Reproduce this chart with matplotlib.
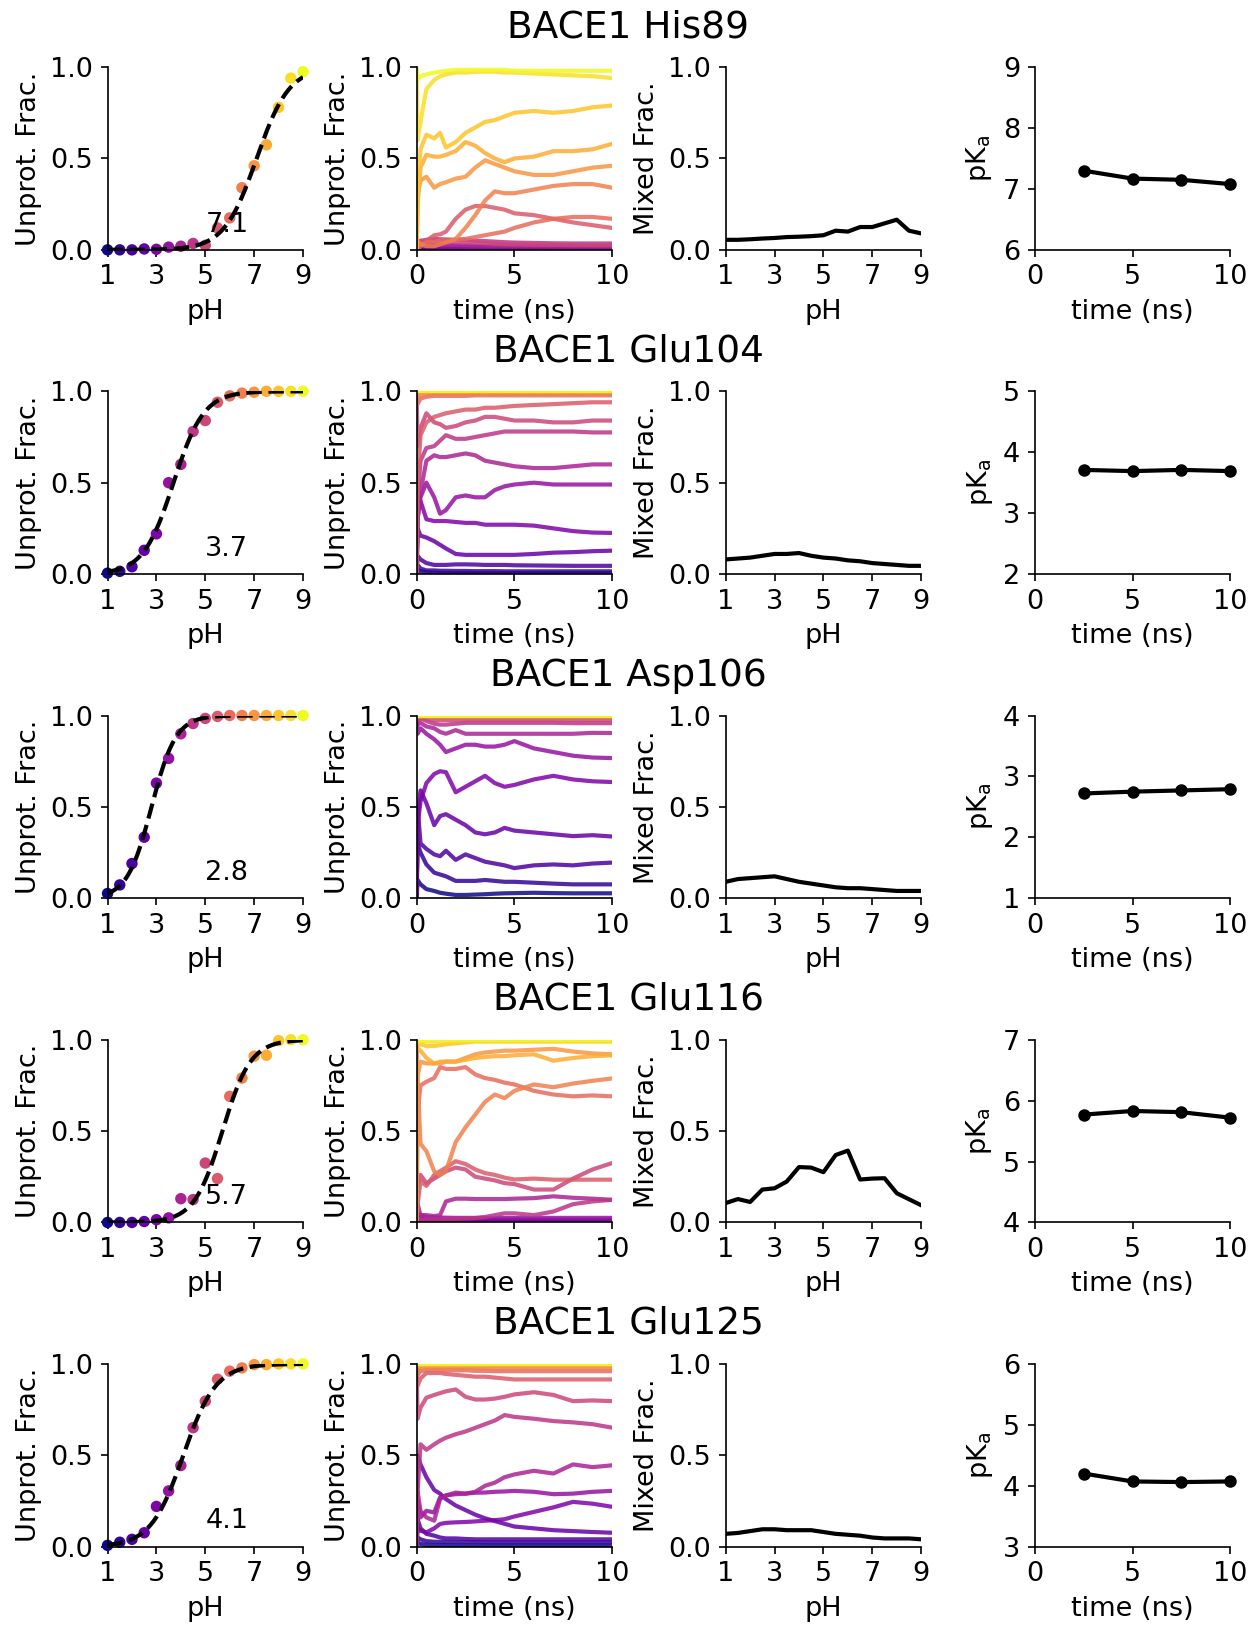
import numpy as np
import matplotlib.pyplot as plt

plt.rcParams['font.family'] = ['DejaVu Sans']
plt.rcParams['font.size'] = 13

# pH windows and time grid of the running-average traces
ph = [1, 1.5, 2, 2.5, 3, 3.5, 4, 4.5, 5, 5.5, 6, 6.5, 7, 7.5, 8, 8.5, 9]
t_ns = [0, 0.05, 0.2, 0.5, 0.9, 1.2, 1.5, 2, 2.5, 3, 3.5, 4, 4.5, 5, 6, 7, 8, 9, 10]
pka_times = [2.5, 5, 7.5, 10]

residues = ['His89', 'Glu104', 'Asp106', 'Glu116', 'Glu125']
pka_fit = [7.1, 3.7, 2.8, 5.7, 4.1]
hill_n = [0.65, 0.7, 0.87, 0.75, 0.65]
pka_ylims = [(6, 9), (2, 5), (1, 4), (4, 7), (3, 6)]

# unprotonated fraction per pH
his89_frac = [0, 0, 0, 0.005, 0.003, 0.015, 0.02, 0.035, 0.025, 0.12, 0.175, 0.34, 0.46, 0.575, 0.78, 0.94, 0.975]
glu104_frac = [0.005, 0.015, 0.04, 0.13, 0.22, 0.50, 0.60, 0.78, 0.84, 0.94, 0.975, 0.99, 0.995, 1.0, 1.0, 1.0, 1.0]
asp106_frac = [0.026, 0.073, 0.19, 0.334, 0.63, 0.765, 0.90, 0.956, 0.984, 0.995, 1.0, 1.0, 1.0, 1.0, 1.0, 1.0, 1.0]
glu116_frac = [0, 0, 0, 0.005, 0.015, 0.025, 0.13, 0.125, 0.325, 0.24, 0.69, 0.79, 0.91, 0.915, 0.995, 1.0, 1.0]
glu125_frac = [0.007, 0.024, 0.04, 0.076, 0.22, 0.305, 0.444, 0.651, 0.796, 0.916, 0.96, 0.978, 0.996, 0.996, 1.0, 1.0, 1.0]

# mixed fraction per pH
his89_mixed = [0.055, 0.055, 0.058, 0.062, 0.065, 0.07, 0.072, 0.075, 0.08, 0.105, 0.1, 0.125, 0.125, 0.145, 0.165, 0.105, 0.09]
glu104_mixed = [0.08, 0.085, 0.09, 0.1, 0.11, 0.11, 0.115, 0.1, 0.09, 0.085, 0.075, 0.07, 0.06, 0.055, 0.05, 0.045, 0.045]
asp106_mixed = [0.09, 0.105, 0.11, 0.115, 0.12, 0.105, 0.09, 0.08, 0.07, 0.06, 0.055, 0.055, 0.05, 0.045, 0.04, 0.04, 0.04]
glu116_mixed = [0.106, 0.128, 0.112, 0.18, 0.187, 0.224, 0.303, 0.3, 0.275, 0.369, 0.393, 0.235, 0.24, 0.242, 0.16, 0.127, 0.094]
glu125_mixed = [0.07, 0.075, 0.085, 0.095, 0.095, 0.09, 0.09, 0.09, 0.08, 0.07, 0.065, 0.06, 0.05, 0.045, 0.045, 0.045, 0.04]

# pKa from growing windows of the trajectory
his89_pka_t = [7.30, 7.17, 7.15, 7.08]
glu104_pka_t = [3.71, 3.69, 3.71, 3.69]
asp106_pka_t = [2.72, 2.75, 2.77, 2.79]
glu116_pka_t = [5.77, 5.83, 5.81, 5.72]
glu125_pka_t = [4.20, 4.07, 4.06, 4.07]

# running unprotonated fraction vs time, one row per pH
his89_traces = [
    [0, 0, 0, 0, 0, 0, 0, 0, 0, 0, 0, 0, 0, 0, 0, 0, 0, 0, 0],
    [0, 0, 0.01, 0.005, 0, 0, 0, 0, 0, 0, 0, 0, 0, 0, 0, 0, 0, 0, 0],
    [0, 0.02, 0.01, 0.005, 0.003, 0.002, 0.002, 0.002, 0.002, 0.002, 0.002, 0.002, 0.002, 0.002, 0.002, 0.002, 0.002, 0.002, 0.002],
    [0, 0.03, 0.02, 0.012, 0.008, 0.006, 0.006, 0.005, 0.005, 0.005, 0.005, 0.005, 0.005, 0.005, 0.005, 0.005, 0.005, 0.005, 0.005],
    [0, 0, 0.01, 0.008, 0.006, 0.005, 0.005, 0.004, 0.004, 0.004, 0.003, 0.003, 0.003, 0.003, 0.003, 0.003, 0.003, 0.003, 0.003],
    [0, 0.05, 0.03, 0.025, 0.02, 0.02, 0.018, 0.018, 0.017, 0.016, 0.016, 0.016, 0.015, 0.015, 0.015, 0.015, 0.015, 0.015, 0.015],
    [0, 0.02, 0.02, 0.03, 0.03, 0.028, 0.027, 0.026, 0.025, 0.024, 0.023, 0.022, 0.022, 0.021, 0.021, 0.02, 0.02, 0.02, 0.02],
    [0, 0.04, 0.05, 0.055, 0.06, 0.058, 0.057, 0.055, 0.055, 0.05, 0.048, 0.045, 0.042, 0.04, 0.038, 0.036, 0.035, 0.035, 0.035],
    [0, 0.03, 0.04, 0.045, 0.05, 0.05, 0.048, 0.046, 0.044, 0.04, 0.036, 0.033, 0.03, 0.03, 0.028, 0.027, 0.026, 0.025, 0.025],
    [0, 0, 0.02, 0.05, 0.08, 0.085, 0.1, 0.17, 0.22, 0.24, 0.24, 0.23, 0.22, 0.2, 0.19, 0.17, 0.15, 0.135, 0.12],
    [0, 0.02, 0.03, 0.04, 0.045, 0.05, 0.05, 0.055, 0.06, 0.07, 0.08, 0.09, 0.1, 0.12, 0.15, 0.17, 0.18, 0.18, 0.17],
    [0, 0.05, 0.03, 0.02, 0.02, 0.03, 0.04, 0.06, 0.12, 0.19, 0.27, 0.32, 0.31, 0.31, 0.33, 0.35, 0.36, 0.36, 0.34],
    [0, 0.3, 0.38, 0.4, 0.34, 0.36, 0.37, 0.39, 0.4, 0.45, 0.49, 0.47, 0.45, 0.43, 0.41, 0.41, 0.43, 0.45, 0.46],
    [0, 0.25, 0.45, 0.52, 0.51, 0.51, 0.52, 0.54, 0.59, 0.57, 0.53, 0.5, 0.48, 0.5, 0.51, 0.54, 0.54, 0.55, 0.58],
    [0, 0.3, 0.55, 0.63, 0.61, 0.64, 0.56, 0.59, 0.64, 0.67, 0.7, 0.71, 0.73, 0.75, 0.76, 0.75, 0.76, 0.78, 0.79],
    [1, 0.6, 0.7, 0.88, 0.93, 0.95, 0.96, 0.97, 0.97, 0.975, 0.975, 0.975, 0.97, 0.97, 0.965, 0.96, 0.955, 0.95, 0.94],
    [1, 0.93, 0.95, 0.96, 0.97, 0.975, 0.98, 0.985, 0.985, 0.985, 0.985, 0.985, 0.985, 0.98, 0.98, 0.98, 0.98, 0.98, 0.98],
]

glu104_traces = [
    [0, 0.02, 0.015, 0.01, 0.008, 0.007, 0.006, 0.006, 0.006, 0.005, 0.005, 0.005, 0.005, 0.005, 0.005, 0.005, 0.005, 0.005, 0.005],
    [0, 0.05, 0.03, 0.02, 0.02, 0.018, 0.018, 0.017, 0.017, 0.016, 0.016, 0.016, 0.015, 0.015, 0.015, 0.015, 0.015, 0.015, 0.015],
    [0, 0.1, 0.08, 0.06, 0.05, 0.05, 0.05, 0.053, 0.053, 0.052, 0.05, 0.05, 0.05, 0.048, 0.047, 0.046, 0.045, 0.045, 0.045],
    [0, 0.25, 0.21, 0.2, 0.18, 0.16, 0.14, 0.11, 0.105, 0.105, 0.105, 0.105, 0.105, 0.105, 0.11, 0.117, 0.12, 0.125, 0.128],
    [0, 0.35, 0.4, 0.3, 0.29, 0.29, 0.29, 0.285, 0.28, 0.28, 0.27, 0.27, 0.27, 0.27, 0.265, 0.25, 0.235, 0.227, 0.225],
    [0, 0.3, 0.42, 0.5, 0.42, 0.33, 0.35, 0.42, 0.43, 0.42, 0.42, 0.46, 0.48, 0.49, 0.5, 0.49, 0.49, 0.49, 0.49],
    [0, 0.3, 0.45, 0.62, 0.65, 0.64, 0.64, 0.65, 0.66, 0.65, 0.62, 0.61, 0.6, 0.59, 0.58, 0.58, 0.59, 0.6, 0.6],
    [0, 0.4, 0.62, 0.69, 0.7, 0.73, 0.76, 0.74, 0.74, 0.75, 0.76, 0.77, 0.78, 0.78, 0.78, 0.78, 0.78, 0.775, 0.775],
    [1, 0.7, 0.8, 0.88, 0.83, 0.82, 0.8, 0.81, 0.83, 0.84, 0.86, 0.86, 0.85, 0.84, 0.84, 0.83, 0.83, 0.84, 0.84],
    [0, 0.5, 0.76, 0.83, 0.86, 0.87, 0.88, 0.89, 0.9, 0.9, 0.91, 0.91, 0.915, 0.92, 0.925, 0.93, 0.935, 0.94, 0.94],
    [1, 0.93, 0.96, 0.97, 0.975, 0.975, 0.975, 0.975, 0.975, 0.978, 0.978, 0.978, 0.978, 0.978, 0.978, 0.978, 0.978, 0.978, 0.978],
    [1, 0.97, 0.98, 0.985, 0.99, 0.99, 0.99, 0.99, 0.99, 0.99, 0.99, 0.99, 0.99, 0.99, 0.99, 0.99, 0.99, 0.99, 0.99],
    [1, 0.99, 0.995, 0.996, 0.997, 0.997, 0.997, 0.997, 0.997, 0.997, 0.997, 0.997, 0.997, 0.997, 0.997, 0.997, 0.997, 0.997, 0.997],
    [1, 1, 1, 1, 1, 1, 1, 1, 1, 1, 1, 1, 1, 1, 1, 1, 1, 1, 1],
    [1, 1, 1, 1, 1, 1, 1, 1, 1, 1, 1, 1, 1, 1, 1, 1, 1, 1, 1],
    [1, 1, 1, 1, 1, 1, 1, 1, 1, 1, 1, 1, 1, 1, 1, 1, 1, 1, 1],
    [1, 1, 1, 1, 1, 1, 1, 1, 1, 1, 1, 1, 1, 1, 1, 1, 1, 1, 1],
]

asp106_traces = [
    [0, 0.1, 0.076, 0.05, 0.04, 0.03, 0.025, 0.018, 0.018, 0.02, 0.022, 0.025, 0.027, 0.028, 0.03, 0.028, 0.027, 0.027, 0.027],
    [0, 0.3, 0.25, 0.185, 0.14, 0.13, 0.12, 0.095, 0.095, 0.095, 0.1, 0.095, 0.09, 0.09, 0.085, 0.08, 0.076, 0.076, 0.076],
    [0, 0.5, 0.3, 0.27, 0.24, 0.23, 0.26, 0.21, 0.24, 0.22, 0.2, 0.19, 0.18, 0.165, 0.18, 0.185, 0.18, 0.19, 0.195],
    [0, 0.45, 0.59, 0.52, 0.4, 0.45, 0.46, 0.43, 0.4, 0.36, 0.35, 0.36, 0.385, 0.37, 0.36, 0.35, 0.34, 0.345, 0.338],
    [0, 0.4, 0.53, 0.63, 0.68, 0.695, 0.69, 0.58, 0.61, 0.64, 0.67, 0.63, 0.61, 0.62, 0.65, 0.67, 0.65, 0.64, 0.636],
    [1, 0.9, 0.93, 0.9, 0.87, 0.84, 0.8, 0.82, 0.84, 0.84, 0.83, 0.83, 0.84, 0.86, 0.82, 0.8, 0.78, 0.77, 0.767],
    [1, 0.95, 0.96, 0.94, 0.93, 0.91, 0.9, 0.92, 0.9, 0.9, 0.9, 0.9, 0.9, 0.9, 0.9, 0.9, 0.9, 0.905, 0.904],
    [1, 0.97, 0.985, 0.97, 0.955, 0.95, 0.95, 0.955, 0.96, 0.96, 0.96, 0.96, 0.96, 0.96, 0.96, 0.96, 0.958, 0.958, 0.958],
    [1, 0.98, 0.985, 0.98, 0.975, 0.975, 0.975, 0.975, 0.975, 0.975, 0.975, 0.975, 0.975, 0.975, 0.975, 0.975, 0.975, 0.975, 0.975],
    [1, 0.99, 0.995, 0.995, 0.995, 0.995, 0.995, 0.995, 0.995, 0.995, 0.995, 0.995, 0.995, 0.995, 0.995, 0.995, 0.995, 0.995, 0.995],
    [1, 1, 1, 1, 1, 1, 1, 1, 1, 1, 1, 1, 1, 1, 1, 1, 1, 1, 1],
    [1, 1, 1, 1, 1, 1, 1, 1, 1, 1, 1, 1, 1, 1, 1, 1, 1, 1, 1],
    [1, 1, 1, 1, 1, 1, 1, 1, 1, 1, 1, 1, 1, 1, 1, 1, 1, 1, 1],
    [1, 1, 1, 1, 1, 1, 1, 1, 1, 1, 1, 1, 1, 1, 1, 1, 1, 1, 1],
    [1, 1, 1, 1, 1, 1, 1, 1, 1, 1, 1, 1, 1, 1, 1, 1, 1, 1, 1],
    [1, 1, 1, 1, 1, 1, 1, 1, 1, 1, 1, 1, 1, 1, 1, 1, 1, 1, 1],
    [1, 1, 1, 1, 1, 1, 1, 1, 1, 1, 1, 1, 1, 1, 1, 1, 1, 1, 1],
]

glu116_traces = [
    [0, 0, 0, 0, 0, 0, 0, 0, 0, 0, 0, 0, 0, 0, 0, 0, 0, 0, 0],
    [0, 0.01, 0.005, 0, 0, 0, 0, 0, 0, 0, 0, 0, 0, 0, 0, 0, 0, 0, 0],
    [0, 0.01, 0.005, 0.003, 0.002, 0.001, 0.001, 0.001, 0.001, 0.001, 0.001, 0.001, 0.001, 0.001, 0.001, 0.001, 0.001, 0.001, 0.001],
    [0, 0.02, 0.01, 0.008, 0.007, 0.006, 0.006, 0.005, 0.005, 0.005, 0.005, 0.005, 0.005, 0.005, 0.005, 0.005, 0.005, 0.005, 0.005],
    [0, 0.03, 0.02, 0.015, 0.015, 0.014, 0.014, 0.014, 0.014, 0.015, 0.015, 0.015, 0.015, 0.015, 0.015, 0.015, 0.015, 0.015, 0.015],
    [0, 0.05, 0.04, 0.03, 0.028, 0.027, 0.026, 0.025, 0.025, 0.025, 0.025, 0.025, 0.025, 0.025, 0.025, 0.025, 0.025, 0.025, 0.025],
    [0, 0.1, 0.04, 0.04, 0.035, 0.04, 0.115, 0.13, 0.13, 0.128, 0.128, 0.128, 0.128, 0.13, 0.133, 0.143, 0.135, 0.13, 0.124],
    [0, 0.02, 0.015, 0.015, 0.015, 0.015, 0.018, 0.02, 0.022, 0.024, 0.03, 0.04, 0.05, 0.05, 0.04, 0.06, 0.1, 0.115, 0.124],
    [0, 0.2, 0.26, 0.215, 0.24, 0.26, 0.28, 0.3, 0.29, 0.25, 0.24, 0.23, 0.215, 0.21, 0.18, 0.18, 0.24, 0.29, 0.325],
    [0, 0.1, 0.225, 0.2, 0.26, 0.28, 0.3, 0.335, 0.32, 0.29, 0.27, 0.26, 0.245, 0.235, 0.24, 0.234, 0.234, 0.234, 0.234],
    [0, 0.6, 0.75, 0.77, 0.79, 0.85, 0.84, 0.84, 0.85, 0.81, 0.79, 0.78, 0.765, 0.755, 0.72, 0.7, 0.69, 0.695, 0.69],
    [1, 0.79, 0.43, 0.39, 0.28, 0.26, 0.28, 0.44, 0.52, 0.59, 0.66, 0.7, 0.68, 0.72, 0.755, 0.74, 0.76, 0.775, 0.788],
    [0, 0.8, 0.88, 0.87, 0.87, 0.87, 0.88, 0.88, 0.9, 0.92, 0.93, 0.935, 0.94, 0.94, 0.945, 0.95, 0.935, 0.925, 0.92],
    [1, 0.95, 0.94, 0.9, 0.87, 0.88, 0.88, 0.88, 0.89, 0.9, 0.905, 0.91, 0.91, 0.915, 0.92, 0.885, 0.9, 0.91, 0.914],
    [1, 0.98, 0.975, 0.965, 0.965, 0.97, 0.975, 0.98, 0.985, 0.99, 0.99, 0.99, 0.99, 0.99, 0.99, 0.99, 0.99, 0.99, 0.99],
    [1, 0.99, 0.99, 0.99, 0.99, 0.992, 0.993, 0.994, 0.995, 0.995, 0.995, 0.995, 0.995, 0.995, 0.995, 0.995, 0.995, 0.995, 0.995],
    [1, 1, 1, 1, 1, 1, 1, 1, 1, 1, 1, 1, 1, 1, 1, 1, 1, 1, 1],
]

glu125_traces = [
    [0, 0.02, 0.015, 0.01, 0.008, 0.008, 0.008, 0.007, 0.007, 0.007, 0.007, 0.007, 0.007, 0.007, 0.007, 0.007, 0.007, 0.007, 0.007],
    [0, 0.05, 0.04, 0.03, 0.027, 0.026, 0.026, 0.025, 0.025, 0.025, 0.024, 0.024, 0.024, 0.024, 0.024, 0.024, 0.024, 0.024, 0.024],
    [0, 0.15, 0.1, 0.07, 0.06, 0.05, 0.045, 0.045, 0.042, 0.04, 0.04, 0.04, 0.04, 0.04, 0.04, 0.04, 0.04, 0.04, 0.04],
    [0, 0.5, 0.45, 0.38, 0.31, 0.29, 0.26, 0.225, 0.2, 0.175, 0.155, 0.14, 0.125, 0.11, 0.1, 0.09, 0.085, 0.08, 0.076],
    [0, 0.1, 0.087, 0.078, 0.1, 0.124, 0.13, 0.133, 0.135, 0.138, 0.142, 0.145, 0.15, 0.165, 0.19, 0.215, 0.245, 0.235, 0.218],
    [0, 0.25, 0.16, 0.196, 0.187, 0.27, 0.28, 0.287, 0.29, 0.295, 0.296, 0.3, 0.302, 0.305, 0.3, 0.287, 0.29, 0.3, 0.305],
    [0, 0.3, 0.196, 0.16, 0.142, 0.26, 0.28, 0.296, 0.29, 0.3, 0.333, 0.35, 0.38, 0.395, 0.415, 0.4, 0.45, 0.435, 0.445],
    [0, 0.3, 0.56, 0.53, 0.56, 0.58, 0.596, 0.615, 0.63, 0.65, 0.67, 0.69, 0.72, 0.71, 0.7, 0.687, 0.68, 0.67, 0.651],
    [1, 0.7, 0.76, 0.815, 0.83, 0.84, 0.85, 0.86, 0.82, 0.805, 0.805, 0.81, 0.82, 0.833, 0.845, 0.83, 0.796, 0.8, 0.796],
    [1, 0.88, 0.92, 0.95, 0.95, 0.95, 0.945, 0.94, 0.935, 0.93, 0.93, 0.925, 0.92, 0.915, 0.915, 0.915, 0.915, 0.915, 0.915],
    [1, 0.94, 0.96, 0.965, 0.965, 0.965, 0.965, 0.965, 0.965, 0.962, 0.962, 0.96, 0.96, 0.96, 0.96, 0.96, 0.96, 0.96, 0.96],
    [1, 0.97, 0.975, 0.978, 0.978, 0.978, 0.978, 0.978, 0.978, 0.978, 0.978, 0.978, 0.978, 0.978, 0.978, 0.978, 0.978, 0.978, 0.978],
    [1, 0.99, 0.995, 0.996, 0.996, 0.996, 0.996, 0.996, 0.996, 0.996, 0.996, 0.996, 0.996, 0.996, 0.996, 0.996, 0.996, 0.996, 0.996],
    [1, 0.99, 0.995, 0.996, 0.996, 0.996, 0.996, 0.996, 0.996, 0.996, 0.996, 0.996, 0.996, 0.996, 0.996, 0.996, 0.996, 0.996, 0.996],
    [1, 1, 1, 1, 1, 1, 1, 1, 1, 1, 1, 1, 1, 1, 1, 1, 1, 1, 1],
    [1, 1, 1, 1, 1, 1, 1, 1, 1, 1, 1, 1, 1, 1, 1, 1, 1, 1, 1],
    [1, 1, 1, 1, 1, 1, 1, 1, 1, 1, 1, 1, 1, 1, 1, 1, 1, 1, 1],
]

fracs = [his89_frac, glu104_frac, asp106_frac, glu116_frac, glu125_frac]
mixeds = [his89_mixed, glu104_mixed, asp106_mixed, glu116_mixed, glu125_mixed]
pka_ts = [his89_pka_t, glu104_pka_t, asp106_pka_t, glu116_pka_t, glu125_pka_t]
traces = [his89_traces, glu104_traces, asp106_traces, glu116_traces, glu125_traces]

cmap = plt.get_cmap('plasma')
colors = [cmap((p - 1) / 8) for p in ph]
ph_fine = np.linspace(1, 9, 200)

fig = plt.figure(figsize=(1249 / 150, 1637 / 150), dpi=150)
axes = fig.subplots(5, 4)
fig.subplots_adjust(left=0.0861, right=0.985, top=0.959, bottom=0.0552,
                    wspace=0.581, hspace=0.774)

for i in range(5):
    ax1, ax2, ax3, ax4 = axes[i]

    # titration curve
    ax1.scatter(ph, fracs[i], c=colors, s=20, zorder=2, clip_on=False)
    fit = 1 / (1 + 10 ** (hill_n[i] * (pka_fit[i] - ph_fine)))
    ax1.plot(ph_fine, fit, '--', color='k', lw=2, zorder=3)
    ax1.text(5, 0.1, f'{pka_fit[i]:.1f}')
    ax1.set_xlim(1, 9)
    ax1.set_ylim(0, 1)
    ax1.set_xticks([1, 3, 5, 7, 9])
    ax1.set_yticks([0, 0.5, 1.0])
    ax1.set_xlabel('pH')
    ax1.set_ylabel('Unprot. Frac.')

    # running fractions
    for j, tr in enumerate(traces[i]):
        ax2.plot(t_ns, tr, color=colors[j], lw=2, alpha=0.85)
    ax2.set_xlim(0, 10)
    ax2.set_ylim(0, 1)
    ax2.set_xticks([0, 5, 10])
    ax2.set_yticks([0, 0.5, 1.0])
    ax2.set_xlabel('time (ns)')
    ax2.set_ylabel('Unprot. Frac.')

    # mixed fraction
    ax3.plot(ph, mixeds[i], color='k', lw=2)
    ax3.set_xlim(1, 9)
    ax3.set_ylim(0, 1)
    ax3.set_xticks([1, 3, 5, 7, 9])
    ax3.set_yticks([0, 0.5, 1.0])
    ax3.set_xlabel('pH')
    ax3.set_ylabel('Mixed Frac.')

    # pKa convergence
    ax4.plot(pka_times, pka_ts[i], 'o-', color='k', lw=2, ms=5, clip_on=False)
    ax4.set_xlim(0, 10)
    ax4.set_ylim(*pka_ylims[i])
    ax4.set_xticks([0, 5, 10])
    ax4.set_yticks(range(pka_ylims[i][0], pka_ylims[i][1] + 1))
    ax4.set_xlabel('time (ns)')
    ax4.set_ylabel(r'pK$_\mathregular{a}$')

    for ax in axes[i]:
        ax.spines['top'].set_visible(False)
        ax.spines['right'].set_visible(False)

    top = ax1.get_position().y1
    fig.text(0.503, top + 40 / 1637, f'BACE1 {residues[i]}',
             ha='center', va='center', fontsize=18)

fig.savefig('out.png', dpi=150)
